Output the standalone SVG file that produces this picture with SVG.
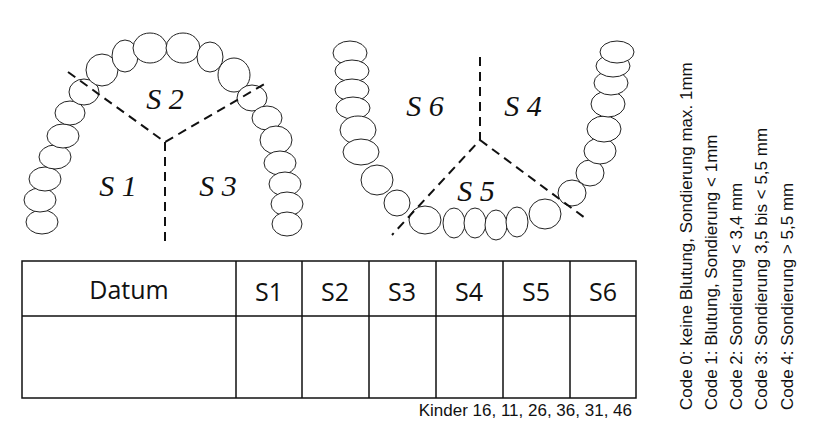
<svg xmlns="http://www.w3.org/2000/svg" width="822" height="429" viewBox="0 0 822 429">
<style>
.t{fill:#fff;stroke:#222;stroke-width:1}
.d{stroke:#111;stroke-width:2;stroke-dasharray:9 6;fill:none}
.s{font-family:"Liberation Serif",serif;font-style:italic;font-size:30px;fill:#111;text-anchor:middle}
.h{font-family:"Open Sans",sans-serif;font-size:25px;fill:#111;text-anchor:middle}
.c{font-family:"Liberation Sans",sans-serif;font-size:17px;fill:#111}
</style>
<rect width="822" height="429" fill="#fff"/>
<g id="upper">
<g class="t">
<ellipse cx="42" cy="222" rx="16" ry="12"/><ellipse cx="40" cy="200" rx="16" ry="12"/><ellipse cx="45" cy="179" rx="16" ry="12"/><ellipse cx="55" cy="157" rx="16" ry="12"/><ellipse cx="63" cy="136" rx="16" ry="12"/><ellipse cx="70" cy="113" rx="15" ry="12"/><ellipse cx="84" cy="92" rx="15" ry="13"/><ellipse cx="102" cy="70" rx="16" ry="16"/><ellipse cx="125" cy="56" rx="13" ry="16"/><ellipse cx="150" cy="48" rx="17" ry="15"/><ellipse cx="183" cy="48" rx="17" ry="15"/><ellipse cx="210" cy="57" rx="13" ry="15"/><ellipse cx="234" cy="75" rx="16" ry="17"/><ellipse cx="252" cy="98" rx="15" ry="13"/><ellipse cx="267" cy="118" rx="15" ry="12"/><ellipse cx="276" cy="140" rx="16" ry="14"/><ellipse cx="280" cy="163" rx="16" ry="12"/><ellipse cx="285" cy="184" rx="16" ry="12"/><ellipse cx="287" cy="204" rx="16" ry="12"/><ellipse cx="287" cy="224" rx="15" ry="12"/>
</g></g>
<g id="lower">
<g class="t">
<ellipse cx="350" cy="53" rx="17" ry="12"/><ellipse cx="352" cy="71" rx="17" ry="11"/><ellipse cx="352" cy="90" rx="17" ry="11"/><ellipse cx="353" cy="108" rx="17" ry="11"/><ellipse cx="358" cy="130" rx="18" ry="14"/><ellipse cx="361" cy="152" rx="18" ry="13"/><ellipse cx="377" cy="180" rx="16" ry="15"/><ellipse cx="397" cy="203" rx="13" ry="13"/><ellipse cx="425" cy="220" rx="16" ry="14"/><ellipse cx="454" cy="223" rx="11" ry="15"/><ellipse cx="475" cy="223" rx="11" ry="15"/><ellipse cx="496" cy="225" rx="11" ry="15"/><ellipse cx="517" cy="222" rx="11" ry="15"/><ellipse cx="545" cy="214" rx="16" ry="15"/><ellipse cx="572" cy="193" rx="14" ry="13"/><ellipse cx="590" cy="173" rx="14" ry="13"/><ellipse cx="600" cy="151" rx="16" ry="13"/><ellipse cx="604" cy="129" rx="17" ry="13"/><ellipse cx="608" cy="104" rx="17" ry="13"/><ellipse cx="611" cy="83" rx="17" ry="12"/><ellipse cx="613" cy="66" rx="17" ry="11"/><ellipse cx="617" cy="52" rx="17" ry="11"/>
</g></g>
<g id="connectors">
<path class="d" d="M68 72L165 142L268 82M165 142V243M480 57V140L392 235M480 140L585 218"/>
</g>
<g id="labels">
<text class="s" x="165" y="109">S 2</text><text class="s" x="118" y="196">S 1</text><text class="s" x="218" y="196">S 3</text>
<text class="s" x="425" y="116">S 6</text><text class="s" x="523" y="116">S 4</text><text class="s" x="476" y="201">S 5</text>
</g>
<g id="table" fill="none" stroke="#111" stroke-width="1.5">
<rect x="22" y="261" width="614" height="137"/>
<path d="M22 316H636M236 261V398M302 261V398M369 261V398M436 261V398M503 261V398M570 261V398"/>
</g>
<g id="tabletext">
<text class="h" x="129" y="299">Datum</text><text class="h" x="269" y="301">S1</text><text class="h" x="335" y="301">S2</text><text class="h" x="402" y="301">S3</text><text class="h" x="469" y="301">S4</text><text class="h" x="536" y="301">S5</text><text class="h" x="603" y="301">S6</text>
<text class="c" x="632" y="416" text-anchor="end">Kinder 16, 11, 26, 36, 31, 46</text>
</g>
<g id="codes">
<text class="c" transform="translate(692 410) rotate(-90)">Code 0: keine Blutung, Sondierung max. 1mm</text>
<text class="c" transform="translate(717 410) rotate(-90)">Code 1: Blutung, Sondierung &lt; 1mm</text>
<text class="c" transform="translate(742 410) rotate(-90)">Code 2: Sondierung &lt; 3,4 mm</text>
<text class="c" transform="translate(767 410) rotate(-90)">Code 3: Sondierung 3,5 bis &lt; 5,5 mm</text>
<text class="c" transform="translate(793 410) rotate(-90)">Code 4: Sondierung &gt; 5,5 mm</text>
</g>
</svg>
